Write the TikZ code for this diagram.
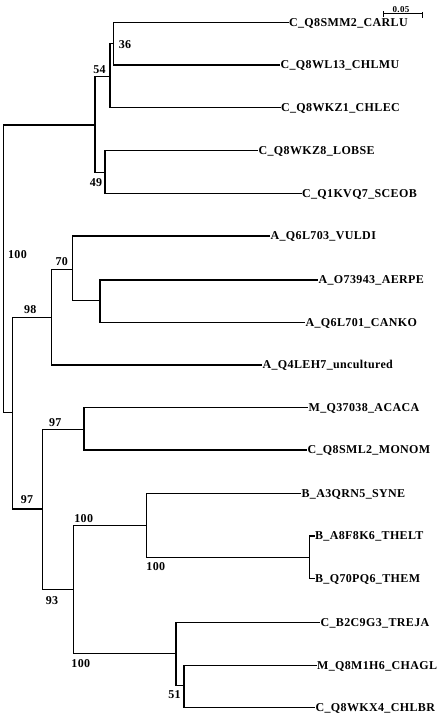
\documentclass[tikz,border=0pt]{standalone}
\usepackage{fontspec}
\setmainfont{Liberation Serif}[LetterSpace=3]
\usepackage{tikz}
\usetikzlibrary{arrows.meta,positioning}

\begin{document}
\begin{tikzpicture}[
    x=1pt, y=-1pt,
    font=\bfseries\fontsize{12}{14}\selectfont,
    leaf/.style={anchor=west, inner sep=0.4pt, text height=7.8pt, text depth=0pt},
    boot/.style={inner sep=0pt, text height=7.8pt, text depth=0pt},
    branch/.style={line width=1.3pt, line join=miter},
    scalebar/.style={line width=1pt}
]
\useasboundingbox (0,0) rectangle (440,717);

% internal nodes of the tree
\coordinate (root) at (3.5, 268.5);
\coordinate (jC)   at (95, 125);
\coordinate (j54)  at (110, 76.5);
\coordinate (j36)  at (113.5, 43.5);
\coordinate (j49)  at (105, 172.5);
\coordinate (jL)   at (12.5, 412.5);
\coordinate (j98)  at (51.5, 317.5);
\coordinate (j70)  at (72.5, 269.5);
\coordinate (jAC)  at (100, 300.5);
\coordinate (j97b) at (42.5, 509);
\coordinate (j97a) at (84, 429.5);
\coordinate (j93)  at (73.5, 589.5);
\coordinate (jB)   at (146.5, 525.5);
\coordinate (jTH)  at (309.5, 557.5);
\coordinate (jT)   at (176, 653.5);
\coordinate (j51)  at (184, 685.5);

% leaves
\node[leaf] (carlu)  at (288.5, 22.5)  {C\_Q8SMM2\_CARLU};
\node[leaf] (chlmu)  at (280, 65)      {C\_Q8WL13\_CHLMU};
\node[leaf] (chlec)  at (280.5, 107.5) {C\_Q8WKZ1\_CHLEC};
\node[leaf] (lobse)  at (258, 150.5)   {C\_Q8WKZ8\_LOBSE};
\node[leaf] (sceob)  at (301.5, 193.5) {C\_Q1KVQ7\_SCEOB};
\node[leaf] (vuldi)  at (270, 236)     {A\_Q6L703\_VULDI};
\node[leaf] (aerpe)  at (318, 280)     {A\_O73943\_AERPE};
\node[leaf] (canko)  at (305, 322.5)   {A\_Q6L701\_CANKO};
\node[leaf] (uncult) at (262, 365)     {A\_Q4LEH7\_uncultured};
\node[leaf] (acaca)  at (308, 407.5)   {M\_Q37038\_ACACA};
\node[leaf] (monom)  at (307, 450)     {C\_Q8SML2\_MONOM};
\node[leaf] (syne)   at (301, 493.5)   {B\_A3QRN5\_SYNE};
\node[leaf] (thelt)  at (314.5, 536)   {B\_A8F8K6\_THELT};
\node[leaf] (them)   at (314.5, 578.5) {B\_Q70PQ6\_THEM};
\node[leaf] (treja)  at (320, 622.5)   {C\_B2C9G3\_TREJA};
\node[leaf] (chagl)  at (316.5, 665.5) {M\_Q8M1H6\_CHAGL};
\node[leaf] (chlbr)  at (315, 707.5)   {C\_Q8WKX4\_CHLBR};

% bootstrap values
\node[boot] (b36)   at (125, 45)      {36};
\node[boot] (b54)   at (99.5, 70)     {54};
\node[boot] (b49)   at (96, 183)      {49};
\node[boot] (b100r) at (17.5, 254.7)  {100};
\node[boot] (b70)   at (61.7, 261.7)  {70};
\node[boot] (b98)   at (30.3, 309.3)  {98};
\node[boot] (b97a)  at (55.2, 422.3)  {97};
\node[boot] (b97b)  at (27, 500)      {97};
\node[boot] (bB)    at (83.7, 519)    {100};
\node[boot] (b93)   at (52, 600.7)    {93};
\node[boot] (bT)    at (80.8, 663.3)  {100};
\node[boot] (bTH)   at (155.8, 566.7) {100};
\node[boot] (b51)   at (174.5, 695)   {51};

% branches
\draw[branch] (root) |- (jC);
\draw[branch] (root) |- (jL);
\draw[branch] (jC)   |- (j54);
\draw[branch] (jC)   |- (j49);
\draw[branch] (j54)  |- (j36);
\draw[branch] (j54)  |- (chlec);
\draw[branch] (j36)  |- (carlu);
\draw[branch] (j36)  |- (chlmu);
\draw[branch] (j49)  |- (lobse);
\draw[branch] (j49)  |- (sceob);
\draw[branch] (jL)   |- (j98);
\draw[branch] (jL)   |- (j97b);
\draw[branch] (j98)  |- (j70);
\draw[branch] (j98)  |- (uncult);
\draw[branch] (j70)  |- (vuldi);
\draw[branch] (j70)  |- (jAC);
\draw[branch] (jAC)  |- (aerpe);
\draw[branch] (jAC)  |- (canko);
\draw[branch] (j97b) |- (j97a);
\draw[branch] (j97b) |- (j93);
\draw[branch] (j97a) |- (acaca);
\draw[branch] (j97a) |- (monom);
\draw[branch] (j93)  |- (jB);
\draw[branch] (j93)  |- (jT);
\draw[branch] (jB)   |- (syne);
\draw[branch] (jB)   |- (jTH);
\draw[branch] (jTH)  |- (thelt);
\draw[branch] (jTH)  |- (them);
\draw[branch] (jT)   |- (treja);
\draw[branch] (jT)   |- (j51);
\draw[branch] (j51)  |- (chagl);
\draw[branch] (j51)  |- (chlbr);

% scale bar
\coordinate (sbl)  at (383, 13.5);
\coordinate (sbr)  at (422, 13.5);
\coordinate (sblt) at (383, 11.5);
\coordinate (sblb) at (383, 17.5);
\coordinate (sbrt) at (422, 12);
\coordinate (sbrb) at (422, 18);
\draw[scalebar] (sbl) -- (sbr);
\draw[scalebar] (sblt) -- (sblb);
\draw[scalebar] (sbrt) -- (sbrb);
\node[boot, font=\bfseries\fontsize{9}{10}\selectfont] (sblab) at (401, 8.5) {0.05};
\end{tikzpicture}
\end{document}
